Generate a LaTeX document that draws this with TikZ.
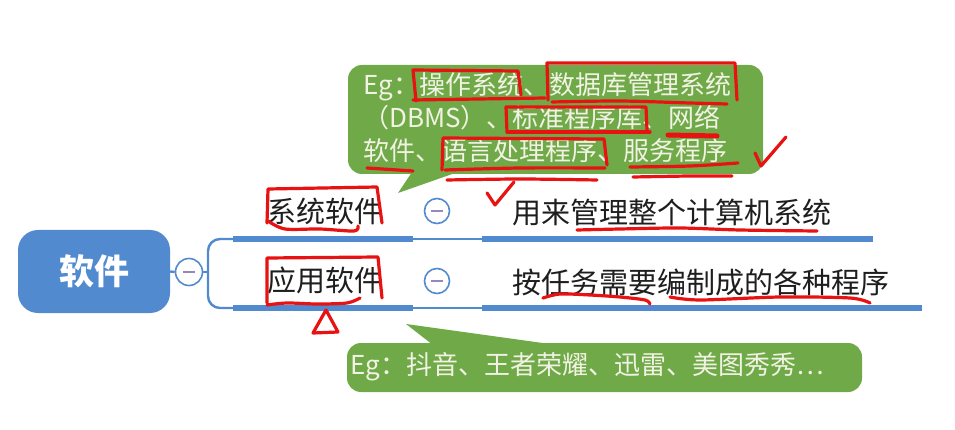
\documentclass[tikz,border=0pt]{standalone}
\usepackage{fontspec}
\setmainfont{Noto Sans CJK SC}
\definecolor{mblue}{RGB}{82,138,208}
\definecolor{mgreen}{RGB}{112,170,72}
\definecolor{mred}{RGB}{232,18,18}
\definecolor{ctextc}{RGB}{242,242,228}
\definecolor{ltext}{RGB}{30,30,30}
\definecolor{minusc}{RGB}{150,135,190}
\begin{document}
\begin{tikzpicture}[x=1pt,y=-1pt,
  root/.style={rectangle, rounded corners=20pt, fill=mblue, text=white, minimum width=152pt, minimum height=83pt, inner sep=0pt, font=\fontsize{35}{40}\selectfont\bfseries},
  tog/.style={circle, draw=mblue, line width=1.6pt, fill=white, minimum size=25pt, inner sep=0pt,
    path picture={\draw[draw=minusc, line width=1.8pt] ([xshift=-6pt]path picture bounding box.center) -- ([xshift=6pt]path picture bounding box.center);}},
  lab/.style={inner sep=0pt, text=ltext, font=\fontsize{29}{34}\selectfont},
  thinline/.style={draw=mblue, line width=2.4pt},
  thickbar/.style={draw=mblue, line width=6.5pt},
  callout/.style={rectangle, rounded corners=14pt, fill=mgreen, inner sep=0pt},
  ctext/.style={inner sep=0pt, text=ctextc, align=left, font=\fontsize{26}{33}\selectfont},
  redpen/.style={draw=mred, line width=3.2pt, line cap=round, line join=round}
]
\useasboundingbox (0,0) rectangle (955,430);
\fill[white] (0,0) rectangle (955,430);

% root and toggle
\node[root] (root) at (94,271.5) {软件};
\node[tog, minimum size=27pt] (t0) at (189,272) {};
\coordinate (br) at (208,272);

% bar coordinates
\coordinate (r1a) at (233,239); \coordinate (r1b) at (413,239);
\coordinate (r1c) at (482,239); \coordinate (r1d) at (873,239);
\coordinate (r2a) at (233,308); \coordinate (r2b) at (413,308);
\coordinate (r2c) at (482,308); \coordinate (r2d) at (922,308);

\draw[thinline] (root.east) -- (t0.west);
\draw[thinline] (t0.east) -- (br);
\draw[thinline, rounded corners=12pt] (r1a) -| (br) |- (r2a);

\draw[thickbar] (r1a) -- (r1b);
\draw[thinline] (r1b) -- (r1c);
\draw[thickbar] (r1c) -- (r1d);
\draw[thickbar] (r2a) -- (r2b);
\draw[thinline] (r2b) -- (r2c);
\draw[thickbar] (r2c) -- (r2d);

% labels
\node[lab] (s1) at (325,211) {系统软件};
\node[tog] (t1) at (437,211) {};
\node[lab] (d1) at (672,212) {用来管理整个计算机系统};
\node[lab] (s2) at (325,280) {应用软件};
\node[tog] (t2) at (437,281) {};
\node[lab] (d2) at (701,282) {按任务需要编制成的各种程序};

% callout top
\fill[mgreen] (412,172) -- (398,193) -- (458,172) -- cycle;
\node[callout, minimum width=415pt, minimum height=109pt] (c1) at (555.5,119.5) {};
\node[ctext, anchor=west] (c1t) at (363,118) {Eg：操作系统、数据库管理系统\\（DBMS）、标准程序库、网络\\软件、语言处理程序、服务程序};

% callout bottom
\fill[mgreen] (433,345) -- (406,324) -- (557,345) -- cycle;
\node[callout, minimum width=515pt, minimum height=49pt] (c2) at (604.5,367.5) {};
\node[ctext, anchor=west] (c2t) at (350,367) {Eg：抖音、王者荣耀、迅雷、美图秀秀…};

% red annotations
\draw[redpen] (416,101) -- (413,70) -- (518,71) -- (521,95);
\draw[redpen] (413,100) -- (545,98);
\draw[redpen] (548,100) -- (547,63) -- (735,63) -- (737,100);
\draw[redpen] plot[smooth] coordinates {(552,102) (620,101) (690,103) (727,104)};
\draw[redpen] (507,132) -- (506,107) -- (646,107) -- (647,130);
\draw[redpen] (507,132) -- (650,132);
\draw[redpen, line width=5pt] (668,135) -- (717,136);
\draw[redpen] (442,170) -- (443,138) -- (604,139) -- (607,165);
\draw[redpen] plot[smooth] coordinates {(445,170) (520,168) (605,168)};
\draw[redpen] plot[smooth] coordinates {(447,180) (520,179) (597,180)};
\draw[redpen] plot[smooth] coordinates {(630,167) (690,166) (738,163)};
\draw[redpen] plot[smooth] coordinates {(633,177) (690,176) (732,176)};
\draw[redpen] (367,168) -- (413,171);
\draw[redpen] (755,153) -- (761,166) -- (786,137);
\draw[redpen] (487,193) -- (495,205) -- (514,182);
% 系统软件 box
\draw[redpen] (267,223) -- (268,189) -- (377,187) -- (382,223);
\draw[redpen] plot[smooth] coordinates {(268,221) (285,229) (320,229) (354,231) (358,226)};
% 应用软件 box
\draw[redpen] (267,303) -- (267,258) -- (378,257) -- (382,298);
\draw[redpen] plot[smooth] coordinates {(267,305) (287,303) (317,304) (347,303) (360,298)};
\draw[redpen] (326,310) -- (313,333) -- (338,332) -- cycle;
% description underlines
\draw[redpen] plot[smooth] coordinates {(577,230) (620,229) (680,228) (740,230) (817,231)};
\draw[redpen] plot[smooth] coordinates {(543,298) (560,294) (590,295) (620,297) (645,300) (650,304)};
\draw[redpen] plot[smooth] coordinates {(670,297) (700,300) (780,297) (850,298) (870,303)};
\end{tikzpicture}
\end{document}
